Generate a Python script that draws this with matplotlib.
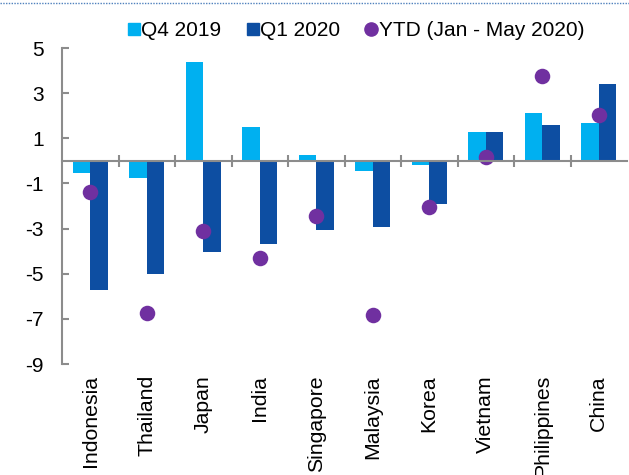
import matplotlib
matplotlib.use("Agg")
import matplotlib.pyplot as plt
import numpy as np
from matplotlib.lines import Line2D
import matplotlib.transforms as mtransforms

categories = ["Indonesia", "Thailand", "Japan", "India", "Singapore",
              "Malaysia", "Korea", "Vietnam", "Philippines", "China"]
q4_2019 = [-0.53, -0.75, 4.37, 1.5, 0.27, -0.44, -0.18, 1.28, 2.13, 1.68]
q1_2020 = [-5.7, -5.0, -4.02, -3.7, -3.08, -2.92, -1.9, 1.28, 1.6, 3.4]
ytd_2020 = [-1.4, -6.75, -3.09, -4.3, -2.43, -6.85, -2.03, 0.19, 3.76, 2.03]
yticks = [5, 3, 1, -1, -3, -5, -7, -9]

c_q4 = "#00B0F0"
c_q1 = "#0D4EA2"
c_ytd = "#7030A0"
axis_col = "#8C8C8C"

plt.rcParams["font.family"] = ["Liberation Sans", "DejaVu Sans"]

fig = plt.figure(figsize=(6.29, 4.75), dpi=100)
ax = fig.add_axes([62/629, 1-364/475, (627-62)/629, (364-48)/475])

x = np.arange(len(categories))
w = 0.31
ax.bar(x - w/2, q4_2019, width=w, color=c_q4, zorder=2)
ax.bar(x + w/2, q1_2020, width=w, color=c_q1, zorder=2)
ax.scatter(x, ytd_2020, s=125, color=c_ytd, zorder=3, linewidths=0)

ax.set_xlim(-0.5, 9.5)
ax.set_ylim(-9, 5)
ax.set_yticks(yticks)
ax.set_yticklabels([str(v) for v in yticks], fontsize=15)
ax.tick_params(axis="y", direction="in", length=5, width=1.5, color=axis_col, pad=13)

ax.set_xticks(np.arange(0.5, 9.5, 1.0))
ax.set_xticklabels([])
ax.tick_params(axis="x", direction="inout", length=9, width=1.5, color=axis_col)

for s in ["top", "right"]:
    ax.spines[s].set_visible(False)
ax.spines["left"].set_color(axis_col)
ax.spines["left"].set_linewidth(1.5)
ax.spines["bottom"].set_color(axis_col)
ax.spines["bottom"].set_linewidth(1.5)
ax.spines["bottom"].set_position(("data", 0))
ax.spines["bottom"].set_zorder(4)

trans = mtransforms.blended_transform_factory(ax.transData, ax.transAxes)
for xi, lab in zip(x, categories):
    ax.text(xi, -0.035, lab, rotation=90, ha="center", va="top",
            fontsize=15.3, transform=trans)

handles = [
    Line2D([], [], marker="s", linestyle="none", color=c_q4, markersize=8.5),
    Line2D([], [], marker="s", linestyle="none", color=c_q1, markersize=8.5),
    Line2D([], [], marker="o", linestyle="none", color=c_ytd, markersize=9.5),
]
fig.legend(handles, ["Q4 2019", "Q1 2020", "YTD (Jan - May 2020)"],
           loc="center", bbox_to_anchor=(356/629, 1-31/475), ncol=3,
           frameon=False, fontsize=15, handlelength=0.6, handletextpad=0.05,
           columnspacing=1.2, borderpad=0, borderaxespad=0)

fig.add_artist(Line2D([0, 1], [1-3/475, 1-3/475], transform=fig.transFigure,
                      color="#4F81BD", linestyle=(0, (1, 1)), linewidth=1))

fig.savefig("out.png", dpi=100)
